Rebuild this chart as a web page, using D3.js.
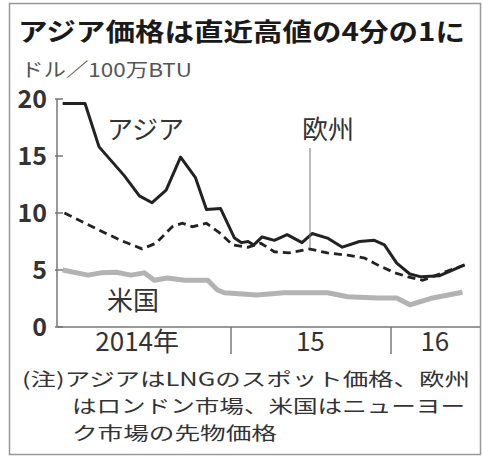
<!DOCTYPE html>
<html>
<head>
<meta charset="utf-8">
<script src="https://cdn.jsdelivr.net/npm/d3@7"></script>
<style>
  body { margin: 0; background: #fff; }
  svg { display: block; }
</style>
</head>
<body>
<svg></svg>
<script>
// LNG prices, dollars per million BTU
var asiaDates = ["2013-12-13", "2014-02-02", "2014-03-06", "2014-05-02", "2014-06-06", "2014-07-05",
  "2014-08-06", "2014-09-08", "2014-10-12", "2014-11-06", "2014-12-08", "2015-01-09", "2015-01-25",
  "2015-02-09", "2015-02-22", "2015-03-13", "2015-04-10", "2015-05-09", "2015-06-12", "2015-07-05",
  "2015-08-09", "2015-09-12", "2015-10-21", "2015-11-24", "2015-12-17", "2016-01-14", "2016-02-13",
  "2016-03-10", "2016-04-21", "2016-06-17"];
var asiaValues = [19.6, 19.6, 15.8, 13.3, 11.5, 10.9, 12.0, 14.9, 13.1, 10.3, 10.4, 7.8, 7.4,
  7.5, 7.2, 7.9, 7.6, 8.1, 7.4, 8.2, 7.8, 7.0, 7.5, 7.6, 7.2, 5.6, 4.65, 4.4, 4.5, 5.45];

var europeDates = ["2013-12-17", "2014-03-06", "2014-04-25", "2014-06-12", "2014-07-14", "2014-08-20",
  "2014-09-12", "2014-10-05", "2014-11-06", "2014-12-06", "2015-01-05", "2015-02-09", "2015-03-10",
  "2015-04-10", "2015-05-13", "2015-06-28", "2015-08-09", "2015-09-24", "2015-11-02", "2015-12-01",
  "2016-01-10", "2016-02-09", "2016-03-13", "2016-04-14", "2016-06-17"];
var europeValues = [10.0, 8.5, 7.6, 6.85, 7.35, 8.8, 9.1, 8.8, 9.1, 8.25, 7.2, 7.0, 7.35,
  6.6, 6.5, 6.85, 6.5, 6.3, 6.05, 5.45, 4.75, 4.4, 4.1, 4.55, 5.45];

var usDates = ["2013-12-13", "2014-02-09", "2014-03-10", "2014-04-14", "2014-05-18", "2014-06-17",
  "2014-07-10", "2014-08-09", "2014-09-17", "2014-11-09", "2014-12-01", "2014-12-17", "2015-03-01",
  "2015-05-02", "2015-08-09", "2015-09-24", "2015-12-01", "2016-01-14", "2016-02-13", "2016-04-05",
  "2016-06-12"];
var usValues = [5.0, 4.55, 4.75, 4.8, 4.55, 4.75, 4.1, 4.3, 4.1, 4.1, 3.25, 3.0, 2.8,
  3.0, 3.0, 2.65, 2.55, 2.55, 1.95, 2.55, 3.05];

var yTicks = [0, 5, 10, 15, 20];
var yearBreaks = ["2015-01-01", "2016-01-01"];
var yearLabels = ["2014年", "15", "16"];
var yearLabelDates = ["2014-06-01", "2015-07-01", "2016-04-10"];

var title = "アジア価格は直近高値の4分の1に";
var unit = "ドル／100万BTU";
var notes = ["(注)アジアはLNGのスポット価格、欧州", "はロンドン市場、米国はニューヨー", "ク市場の先物価格"];

var width = 483, height = 459;
var svg = d3.select("svg").attr("width", width).attr("height", height);

var parse = d3.timeParse("%Y-%m-%d");
var zip = function(ds, vs) {
  return ds.map(function(d, i) { return {date: parse(d), value: vs[i]}; });
};

var asia = zip(asiaDates, asiaValues);
var europe = zip(europeDates, europeValues);
var us = zip(usDates, usValues);

var x = d3.scaleTime()
    .domain([parse("2015-01-01"), parse("2016-01-01")])
    .range([231, 391]);
var y = d3.scaleLinear().domain([0, 20]).range([327, 99]);

var cjk = "'Noto Sans CJK JP', sans-serif";
var num = "'Liberation Sans Narrow', 'Noto Sans CJK JP', sans-serif";

// frame
svg.append("rect")
    .attr("x", 9.5).attr("y", 3.5)
    .attr("width", 471).attr("height", 451)
    .attr("fill", "none").attr("stroke", "#999").attr("stroke-width", 1.5);

// title
svg.append("text")
    .attr("transform", "translate(18,41) scale(1,0.9)")
    .attr("font-family", cjk).attr("font-weight", "bold").attr("font-size", 28)
    .attr("fill", "#1a1a1a")
    .attr("textLength", 447).attr("lengthAdjust", "spacingAndGlyphs")
    .text(title);

svg.append("text")
    .attr("x", 21).attr("y", 77)
    .attr("font-family", cjk).attr("font-size", 19)
    .attr("fill", "#555")
    .attr("textLength", 171).attr("lengthAdjust", "spacingAndGlyphs")
    .text(unit);

// axes
var axisColor = "#777";
var x0 = 57;
svg.append("line")
    .attr("x1", x0).attr("x2", x0)
    .attr("y1", y(20)).attr("y2", y(0))
    .attr("stroke", axisColor).attr("stroke-width", 1.5);

svg.append("line")
    .attr("x1", x0).attr("x2", 480)
    .attr("y1", y(0)).attr("y2", y(0))
    .attr("stroke", axisColor).attr("stroke-width", 1.5);

svg.selectAll(".ytick")
    .data(yTicks)
    .enter().append("line")
    .attr("x1", x0 - 2).attr("x2", x0 + 6)
    .attr("y1", function(d) { return y(d); })
    .attr("y2", function(d) { return y(d); })
    .attr("stroke", axisColor).attr("stroke-width", 1.5);

svg.selectAll(".ylab")
    .data(yTicks)
    .enter().append("text")
    .attr("x", x0 - 10)
    .attr("y", function(d) { return y(d) + 9; })
    .attr("text-anchor", "end")
    .attr("font-family", num).attr("font-weight", "bold").attr("font-size", 25)
    .attr("fill", "#333")
    .text(function(d) { return d; });

svg.selectAll(".xtick")
    .data(yearBreaks)
    .enter().append("line")
    .attr("x1", function(d) { return x(parse(d)); })
    .attr("x2", function(d) { return x(parse(d)); })
    .attr("y1", y(0)).attr("y2", y(0) + 27)
    .attr("stroke", axisColor).attr("stroke-width", 1.5);

svg.selectAll(".xlab")
    .data(yearLabels)
    .enter().append("text")
    .attr("x", function(d, i) { return x(parse(yearLabelDates[i])); })
    .attr("y", 351)
    .attr("text-anchor", "middle")
    .attr("font-family", num).attr("font-size", 26)
    .attr("fill", "#333")
    .text(function(d) { return d; });

// lines
var line = d3.line()
    .x(function(d) { return x(d.date); })
    .y(function(d) { return y(d.value); });

svg.append("path")
    .attr("d", line(us))
    .attr("fill", "none").attr("stroke", "#b3b3b3").attr("stroke-width", 5)
    .attr("stroke-linejoin", "round");

svg.append("path")
    .attr("d", line(europe))
    .attr("fill", "none").attr("stroke", "#222").attr("stroke-width", 2.8)
    .attr("stroke-dasharray", "8,5");

svg.append("path")
    .attr("d", line(asia))
    .attr("fill", "none").attr("stroke", "#222").attr("stroke-width", 3)
    .attr("stroke-linejoin", "round");

// series labels
svg.append("text")
    .attr("x", 107).attr("y", 139)
    .attr("font-family", cjk).attr("font-size", 26).attr("fill", "#333")
    .text("アジア");

svg.append("text")
    .attr("x", 107).attr("y", 310)
    .attr("font-family", cjk).attr("font-size", 26).attr("fill", "#333")
    .text("米国");

svg.append("text")
    .attr("x", 302).attr("y", 139)
    .attr("font-family", cjk).attr("font-size", 26).attr("fill", "#333")
    .text("欧州");

svg.append("line")
    .attr("x1", 310).attr("x2", 310)
    .attr("y1", 148).attr("y2", y(6.9))
    .attr("stroke", "#777").attr("stroke-width", 1);

// notes
var noteX = [22, 72, 72];
var noteW = [448, 393, 205];
svg.selectAll(".note")
    .data(notes)
    .enter().append("text")
    .attr("transform", function(d, i) {
      return "translate(" + noteX[i] + "," + (386 + i * 27) + ") scale(1,0.88)";
    })
    .attr("font-family", cjk).attr("font-size", 21)
    .attr("fill", "#333")
    .attr("textLength", function(d, i) { return noteW[i]; })
    .attr("lengthAdjust", "spacingAndGlyphs")
    .text(function(d) { return d; });
</script>
</body>
</html>
